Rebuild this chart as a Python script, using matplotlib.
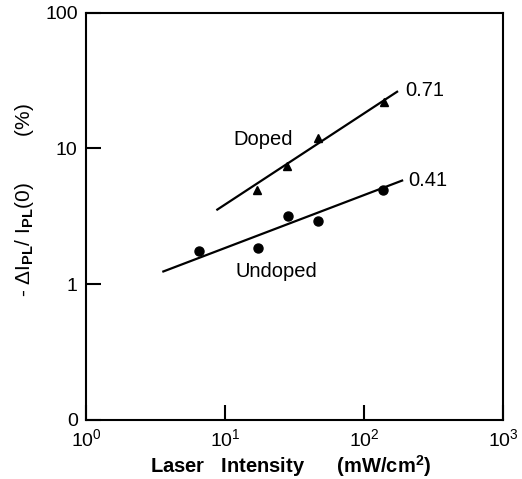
import matplotlib.pyplot as plt

plt.rcParams['font.family'] = ['Liberation Sans', 'DejaVu Sans']
plt.rcParams['mathtext.fontset'] = 'custom'
plt.rcParams['mathtext.rm'] = 'Liberation Sans'
plt.rcParams['mathtext.bf'] = 'Liberation Sans:bold'

# doped sample (triangles)
doped_x = [17.0, 27.9, 46.7, 139]
doped_y = [4.97, 7.46, 12.0, 22.0]
doped_fit_x = [8.8, 173]
doped_fit_y = [3.54, 26.1]

# undoped sample (circles)
undoped_x = [6.5, 17.3, 28.4, 46.7, 137]
undoped_y = [1.74, 1.86, 3.20, 2.94, 4.97]
undoped_fit_x = [3.6, 188]
undoped_fit_y = [1.24, 5.79]

xticks = [1, 10, 100, 1000]
xticklabels = ['$10^0$', '$10^1$', '$10^2$', '$10^3$']
yticks = [0.1, 1, 10, 100]
yticklabels = ['0', '1', '10', '100']

fig = plt.figure(figsize=(5.22, 4.79), dpi=100)
ax = fig.add_axes([0.1648, 0.1232, 0.7988, 0.8507])

ax.plot(doped_fit_x, doped_fit_y, color='black', lw=1.6)
ax.plot(undoped_fit_x, undoped_fit_y, color='black', lw=1.6)
ax.plot(doped_x, doped_y, '^', color='black', ms=5.5)
ax.plot(undoped_x, undoped_y, 'o', color='black', ms=6.5)

ax.set_xscale('log')
ax.set_yscale('log')
ax.set_xlim(1, 1000)
ax.set_ylim(0.1, 100)
ax.minorticks_off()
ax.set_xticks(xticks)
ax.set_xticklabels(xticklabels)
ax.set_yticks(yticks)
ax.set_yticklabels(yticklabels)
ax.tick_params(direction='in', length=11, width=1.5, labelsize=14, pad=6)
for s in ax.spines.values():
    s.set_linewidth(1.5)

ax.text(18.8, 11.6, 'Doped', fontsize=14.5, ha='center', va='center')
ax.text(23.3, 1.24, 'Undoped', fontsize=14.5, ha='center', va='center')
ax.text(197, 26.5, '0.71', fontsize=14.5, ha='left', va='center')
ax.text(207, 5.8, '0.41', fontsize=14.5, ha='left', va='center')

ax.set_xlabel(r'Laser   Intensity      (mW/cm$^\mathbf{2}$)', fontsize=14.5,
              fontweight='bold')
ax.xaxis.set_label_coords(0.49, -0.082)
ax.set_ylabel(r'- $\Delta$I$_{\mathbf{PL}}$/ I$_{\mathbf{PL}}$(0)        (%)',
              fontsize=15)
ax.yaxis.set_label_coords(-0.12, 0.54)

fig.savefig('out.png', dpi=100)
